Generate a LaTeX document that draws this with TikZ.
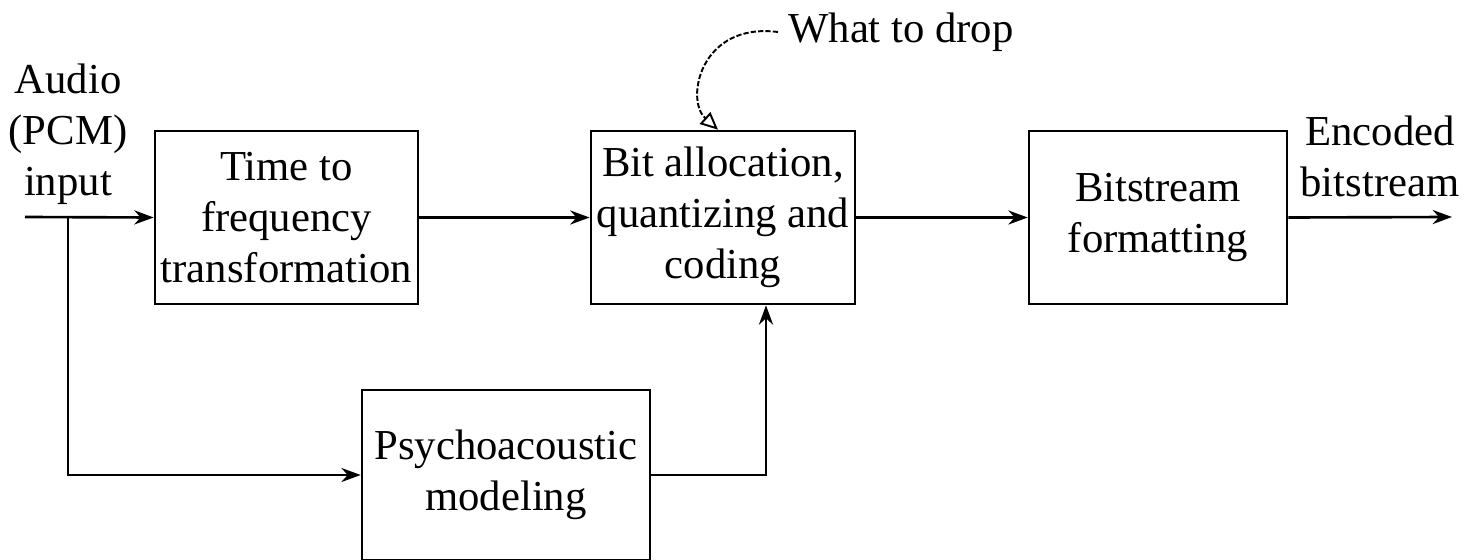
\documentclass[tikz,border=0pt]{standalone}
\usepackage{fontspec}
\setmainfont{Liberation Serif}
\usetikzlibrary{shapes, positioning, arrows.meta}

\begin{document}
\begin{tikzpicture}[
    x=0.02cm, y=-0.02cm,
    block/.style={rectangle, draw=black, line width=1.5pt, fill=none,
        text centered, align=center, text=black, minimum height=3.46cm,
        font=\fontsize{24.3}{29}\selectfont},
    label/.style={rectangle, draw=none, fill=none, text centered, align=center,
        text=black, font=\fontsize{24.3}{29}\selectfont, inner sep=0pt},
    line/.style={line width=1.5pt, -{Stealth[length=11pt, width=8pt]}},
    hint/.style={line width=1.1pt, dash pattern=on 3pt off 1.2pt,
        -{Triangle[open, length=10pt, width=9pt]}}
]
\useasboundingbox (0,0) rectangle (1476,560);
% blocks
\node (T2F) [block, minimum width=5.18cm] at (286.5,217.5) {Time to\\frequency\\transformation};
\node (BitAlloc) [block, minimum width=5.24cm] at (723,217.5) {Bit allocation,\\quantizing and\\coding};
\node (BsFmt) [block, minimum width=5.16cm] at (1158,217.5) {Bitstream\\formatting};
\node (Psycho) [block, minimum width=5.76cm, minimum height=3.4cm] at (506,475) {Psychoacoustic\\modeling};
% labels
\node (In) [label] at (68,134) {Audio\\(PCM)\\input};
\node (Out) [label] at (1380,156) {Encoded\\bitstream};
\node (Drop) [label, anchor=west] at (788,32) {What to drop};
% connectors
\coordinate (Start) at (25,217);
\coordinate (Split) at (68,217);
\coordinate (End) at (1452,217);
\draw [line] (Start) -- (T2F.west);
\draw [line] (T2F.east) -- (BitAlloc.west);
\draw [line] (BitAlloc.east) -- (BsFmt.west);
\draw [line] (BsFmt.east) -- (End);
\draw [line] (Split) |- (Psycho.west);
\draw [line] (Psycho.east) -| ([xshift=0.86cm]BitAlloc.south);
\draw [hint] ([xshift=-0.2cm]Drop.west) .. controls (700,22) and (685,100) .. ([xshift=-0.1cm]BitAlloc.north);
\end{tikzpicture}
\end{document}
